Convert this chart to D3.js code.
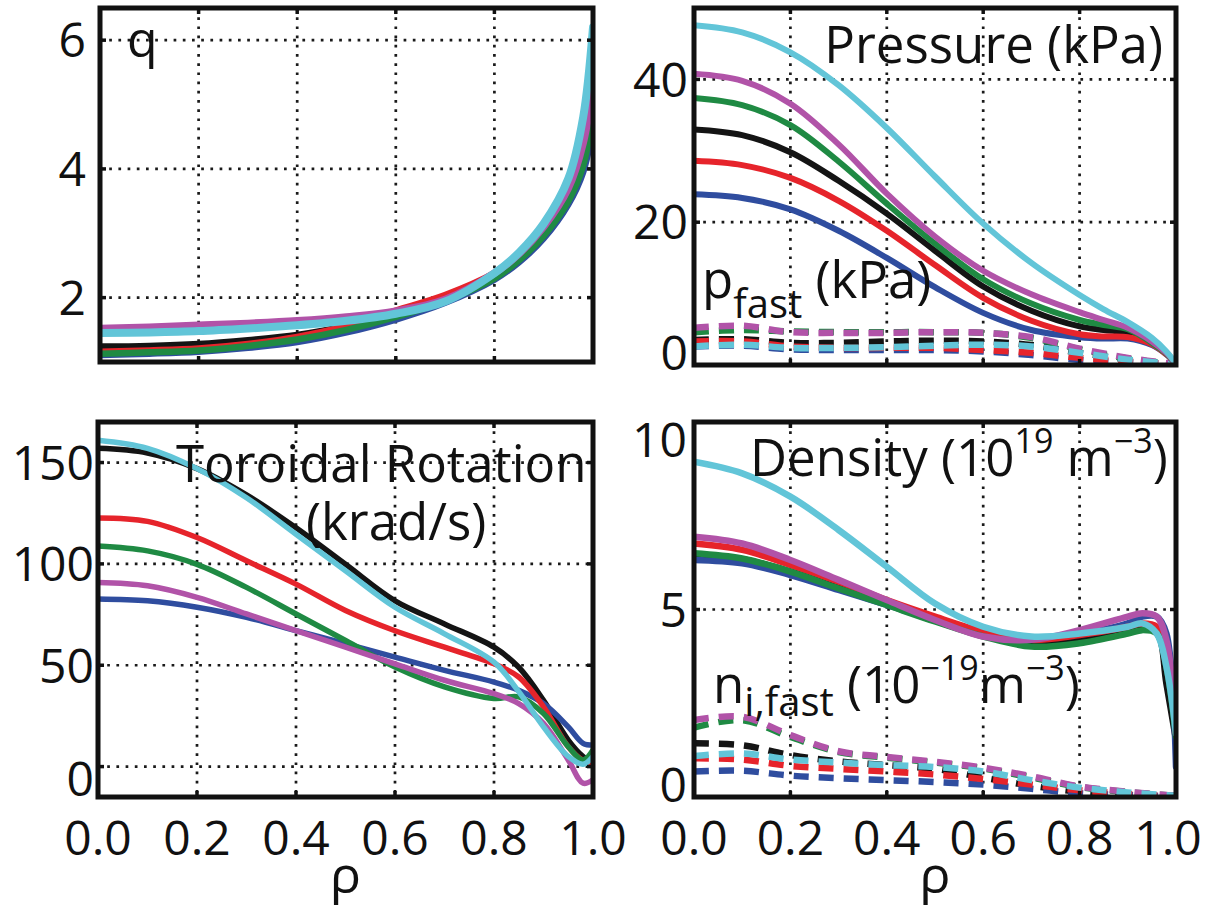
<!DOCTYPE html>
<html>
<head>
<meta charset="utf-8">
<script src="https://cdn.jsdelivr.net/npm/d3@7"></script>
<style>
  html, body { margin: 0; padding: 0; background: #fff; }
  svg { display: block; }
</style>
</head>
<body>
<svg id="chart" width="1205" height="908"></svg>
<script>
// ---------------- data ----------------
const colors = { blue: "#2f4d9f", red: "#e6242b", green: "#1f8a43", black: "#141414", magenta: "#b153a8", cyan: "#62c5d8" };
const drawOrder = ["black", "blue", "red", "green", "magenta", "cyan"];

const xTicks = [0, 0.2, 0.4, 0.6, 0.8, 1.0];
const xGrid = [0.2, 0.4, 0.6, 0.8];

// safety factor q
const rhoQ = [0, 0.1, 0.2, 0.3, 0.4, 0.5, 0.6, 0.7, 0.8, 0.85, 0.9, 0.95, 0.98, 1.0];
const qBlue    = [1.11, 1.13, 1.16, 1.22, 1.31, 1.46, 1.66, 1.92, 2.28, 2.55, 2.92, 3.45, 3.95, 4.66];
const qRed     = [1.16, 1.18, 1.21, 1.28, 1.39, 1.56, 1.80, 2.04, 2.38, 2.64, 3.00, 3.55, 4.10, 5.00];
const qGreen   = [1.13, 1.15, 1.18, 1.25, 1.35, 1.50, 1.70, 1.95, 2.30, 2.58, 2.96, 3.50, 4.05, 4.90];
const qBlack   = [1.24, 1.25, 1.28, 1.34, 1.42, 1.56, 1.78, 2.02, 2.36, 2.63, 3.00, 3.55, 4.10, 4.90];
const qMagenta = [1.52, 1.54, 1.57, 1.60, 1.64, 1.70, 1.79, 1.97, 2.38, 2.68, 3.10, 3.70, 4.40, 5.30];
const qCyan    = [1.45, 1.46, 1.48, 1.52, 1.57, 1.64, 1.75, 1.94, 2.38, 2.70, 3.15, 3.85, 4.80, 6.20];
const qTicks = [2, 4, 6];

// pressure (kPa)
const rhoP = [0, 0.1, 0.2, 0.3, 0.4, 0.5, 0.6, 0.7, 0.8, 0.85, 0.9, 0.95, 0.98, 1.0];
const pCyan    = [47.6, 46.6, 43.8, 39.2, 33.2, 26.4, 19.8, 14.3, 9.8, 7.8, 6.0, 3.8, 1.9, 0.2];
const pMagenta = [40.8, 39.8, 36.6, 30.9, 24.0, 18.0, 13.2, 9.9, 7.4, 6.3, 5.2, 3.3, 1.7, 0.2];
const pGreen   = [37.4, 36.4, 33.6, 28.5, 22.6, 17.0, 12.0, 8.6, 6.3, 5.6, 5.0, 3.1, 1.6, 0.2];
const pBlack   = [33.0, 32.2, 29.8, 25.8, 21.2, 16.0, 11.0, 7.6, 5.4, 4.9, 4.5, 3.0, 1.6, 0.2];
const pRed     = [28.6, 28.0, 26.2, 23.0, 18.8, 14.0, 9.4, 6.2, 4.3, 4.0, 3.9, 2.9, 1.5, 0.2];
const pBlue    = [23.9, 23.4, 21.8, 18.8, 15.0, 10.9, 7.3, 4.9, 3.9, 3.7, 3.7, 2.8, 1.5, 0.2];
// fast-ion pressure (kPa), dashed
const rhoPF = [0, 0.1, 0.2, 0.3, 0.4, 0.5, 0.6, 0.7, 0.8, 0.9, 1.0];
const pfMagenta = [5.2, 5.5, 4.6, 4.5, 4.5, 4.6, 4.5, 3.9, 2.3, 1.0, 0.1];
const pfGreen   = [4.6, 4.9, 4.7, 4.6, 4.6, 4.6, 4.5, 3.8, 2.2, 0.9, 0.1];
const pfBlack   = [3.5, 3.6, 3.1, 3.1, 3.3, 3.4, 3.3, 2.8, 1.7, 0.75, 0.1];
const pfRed     = [3.3, 3.3, 2.6, 2.4, 2.4, 2.4, 2.1, 1.7, 1.0, 0.5, 0.1];
const pfBlue    = [2.6, 2.7, 2.2, 2.1, 2.1, 2.1, 1.9, 1.4, 0.7, 0.4, 0.1];
const pfCyan    = [2.6, 2.85, 2.4, 2.4, 2.5, 2.7, 2.85, 2.6, 1.7, 0.75, 0.1];
const pTicks = [0, 20, 40];

// toroidal rotation (krad/s)
const rhoV = [0, 0.1, 0.2, 0.3, 0.4, 0.5, 0.6, 0.7, 0.8, 0.85, 0.9, 0.95, 0.98, 1.0];
const vCyan    = [161, 157, 147, 132.6, 114.6, 96.6, 78.6, 65.5, 51.5, 37, 19.6, 5, 1.2, 5];
const vBlack   = [157, 154.7, 147, 134, 117.8, 99.8, 81.8, 70.4, 58.9, 49, 32.7, 13.1, 4.9, 1.6];
const vRed     = [122.7, 121, 113, 101.5, 90, 77, 67, 58.9, 50.7, 44.2, 29.5, 9.8, 3, 1.6];
const vGreen   = [108.8, 106.4, 99.8, 88.4, 75.3, 62.2, 49.1, 39.3, 33.6, 34.4, 26.2, 9.8, 3.3, 8.2];
const vMagenta = [90.8, 89.2, 83.5, 75.3, 67.1, 58.9, 50.7, 42.6, 36, 31.1, 21.3, 3.3, -8.2, -6.5];
const vBlue    = [82.7, 81.8, 78.6, 73.6, 67.1, 60.6, 54, 47.5, 41.7, 37.6, 31.1, 19.6, 11.5, 10.6];
const vTicks = [0, 50, 100, 150];

// density (1e19 m^-3)
const rhoN = [0, 0.1, 0.2, 0.3, 0.4, 0.5, 0.6, 0.7, 0.8, 0.9, 0.93, 0.96, 0.98, 1.0];
const nCyan    = [8.94, 8.63, 8.01, 7.12, 6.14, 5.16, 4.54, 4.28, 4.36, 4.54, 4.63, 4.36, 3.48, 1.7];
const nMagenta = [6.94, 6.76, 6.32, 5.79, 5.25, 4.72, 4.28, 4.19, 4.45, 4.81, 4.90, 4.81, 4.19, 1.7];
const nRed     = [6.76, 6.59, 6.19, 5.74, 5.25, 4.81, 4.41, 4.19, 4.32, 4.54, 4.63, 4.54, 3.83, 1.7];
const nGreen   = [6.50, 6.36, 6.01, 5.56, 5.12, 4.68, 4.28, 4.01, 4.10, 4.36, 4.45, 4.36, 3.48, 1.61];
const nBlack   = [6.45, 6.34, 6.01, 5.58, 5.15, 4.70, 4.32, 4.14, 4.23, 4.45, 4.54, 4.45, 3.03, 1.52];
const nBlue    = [6.32, 6.23, 5.92, 5.52, 5.12, 4.72, 4.36, 4.23, 4.36, 4.63, 4.81, 4.81, 4.36, 0.81];
// fast-ion density, dashed
const rhoNF = [0, 0.1, 0.2, 0.3, 0.4, 0.5, 0.6, 0.7, 0.8, 0.9, 1.0];
const nfMagenta = [2.05, 2.14, 1.65, 1.22, 1.07, 0.94, 0.78, 0.55, 0.28, 0.14, 0.03];
const nfGreen   = [1.85, 2.05, 1.60, 1.20, 1.05, 0.92, 0.76, 0.52, 0.27, 0.13, 0.03];
const nfBlack   = [1.43, 1.38, 1.12, 0.95, 0.85, 0.75, 0.52, 0.30, 0.14, 0.06, 0.02];
const nfCyan    = [1.09, 1.16, 1.00, 0.92, 0.85, 0.80, 0.68, 0.45, 0.25, 0.12, 0.03];
const nfRed     = [1.03, 1.00, 0.83, 0.75, 0.68, 0.60, 0.48, 0.33, 0.18, 0.08, 0.02];
const nfBlue    = [0.68, 0.70, 0.57, 0.50, 0.45, 0.40, 0.33, 0.22, 0.10, 0.05, 0.01];
const nTicks = [0, 5, 10];

// ---------------- drawing ----------------
const FONT = "'Open Sans', 'Noto Sans', sans-serif";
const svg = d3.select("#chart");
svg.append("rect").attr("width", 1205).attr("height", 908).attr("fill", "#fff");

let clipId = 0;
function panel(cfg) {
  const g = svg.append("g");
  const x = d3.scaleLinear().domain([0, 1]).range([cfg.x0, cfg.x1]);
  const y = d3.scaleLinear().domain(cfg.ydom).range([cfg.y1, cfg.y0]);
  const id = "clip" + (clipId++);
  svg.append("clipPath").attr("id", id).append("rect")
    .attr("x", cfg.x0).attr("y", cfg.y0).attr("width", cfg.x1 - cfg.x0).attr("height", cfg.y1 - cfg.y0);

  // grid
  const grid = g.append("g").attr("stroke", "#1a1a1a").attr("stroke-width", 2.7).attr("stroke-dasharray", "2.7,6.5");
  grid.selectAll(".gx").data(xGrid).join("line")
    .attr("x1", d => x(d)).attr("x2", d => x(d)).attr("y1", cfg.y0).attr("y2", cfg.y1);
  grid.selectAll(".gy").data(cfg.grid).join("line")
    .attr("y1", d => y(d)).attr("y2", d => y(d)).attr("x1", cfg.x0).attr("x2", cfg.x1);

  const plot = g.append("g").attr("clip-path", `url(#${id})`);
  const line = (xs) => d3.line().x((d, i) => x(xs[i])).y(d => y(d)).curve(d3.curveCatmullRom.alpha(0.5));

  if (cfg.dashed) {
    drawOrder.forEach(k => {
      plot.append("path").attr("d", line(cfg.dashed.rho)(cfg.dashed[k]))
        .attr("fill", "none").attr("stroke", colors[k]).attr("stroke-width", 6.5)
        .attr("stroke-dasharray", "15,10");
    });
  }
  drawOrder.forEach(k => {
    plot.append("path").attr("d", line(cfg.solid.rho)(cfg.solid[k]))
      .attr("fill", "none").attr("stroke", colors[k])
      .attr("stroke-width", (cfg.widths && cfg.widths[k]) || cfg.lw)
      .attr("stroke-linejoin", "round").attr("stroke-linecap", "round");
  });

  // inward tick marks
  const tk = g.append("g").attr("stroke", "#111").attr("stroke-width", 3.5);
  const tl = 6;
  tk.selectAll(".tb").data(xGrid).join("line")
    .attr("x1", d => x(d)).attr("x2", d => x(d)).attr("y1", cfg.y1).attr("y2", cfg.y1 - tl);
  tk.selectAll(".tt").data(xGrid).join("line")
    .attr("x1", d => x(d)).attr("x2", d => x(d)).attr("y1", cfg.y0).attr("y2", cfg.y0 + tl);
  tk.selectAll(".tl").data(cfg.grid).join("line")
    .attr("y1", d => y(d)).attr("y2", d => y(d)).attr("x1", cfg.x0).attr("x2", cfg.x0 + tl);
  tk.selectAll(".tr").data(cfg.grid).join("line")
    .attr("y1", d => y(d)).attr("y2", d => y(d)).attr("x1", cfg.x1).attr("x2", cfg.x1 - tl);

  // frame
  g.append("rect").attr("x", cfg.x0).attr("y", cfg.y0)
    .attr("width", cfg.x1 - cfg.x0).attr("height", cfg.y1 - cfg.y0)
    .attr("fill", "none").attr("stroke", "#111").attr("stroke-width", 5);

  // y axis labels
  const ya = g.append("g").attr("transform", `translate(${cfg.x0 - cfg.lab},0)`)
    .call(d3.axisLeft(y).tickValues(cfg.yticks).tickSize(0).tickPadding(0).tickFormat(d3.format("d")));
  ya.select(".domain").remove();
  ya.attr("font-family", FONT).attr("font-size", 48);
  ya.selectAll(".tick").attr("transform", d => {
    const ty = Math.max(cfg.y0 + 18, Math.min(cfg.y1 - 12, y(d))) + ((cfg.labShift && cfg.labShift[d]) || 0);
    return `translate(0,${ty})`;
  });
  ya.selectAll("text").attr("fill", "#111").attr("dy", "0.36em");

  if (cfg.xlabels) {
    const xa = g.append("g").attr("transform", `translate(0,${cfg.y1})`)
      .call(d3.axisBottom(x).tickValues(xTicks).tickSize(0).tickFormat(d3.format(".1f")));
    xa.select(".domain").remove();
    xa.attr("font-family", FONT).attr("font-size", 48);
    xa.selectAll(".tick").attr("transform", d => `translate(${Math.min(1168, x(d))},0)`);
    xa.selectAll("text").attr("fill", "#111").attr("y", 58).attr("dy", 0);
    g.append("text").attr("x", (cfg.x0 + cfg.x1) / 2).attr("y", 893)
      .attr("text-anchor", "middle").attr("font-family", FONT).attr("font-size", 52)
      .attr("fill", "#111").text("ρ");
  }
  return g;
}

panel({ x0: 100, x1: 593, y0: 8, y1: 362, ydom: [1, 6.5], yticks: qTicks, grid: qTicks, lab: 14, lw: 6.5,
  widths: { cyan: 8, magenta: 7.5 },
  solid: { rho: rhoQ, blue: qBlue, red: qRed, green: qGreen, black: qBlack, magenta: qMagenta, cyan: qCyan } });

panel({ x0: 694, x1: 1176, y0: 8, y1: 365, ydom: [0, 50], yticks: pTicks, grid: [20, 40], lab: 6, lw: 6,
  solid: { rho: rhoP, blue: pBlue, red: pRed, green: pGreen, black: pBlack, magenta: pMagenta, cyan: pCyan },
  dashed: { rho: rhoPF, blue: pfBlue, red: pfRed, green: pfGreen, black: pfBlack, magenta: pfMagenta, cyan: pfCyan } });

panel({ x0: 98, x1: 593, y0: 422, y1: 797, ydom: [-15, 170], yticks: vTicks, grid: vTicks, lab: 4, lw: 5.5, xlabels: true,
  labShift: { 0: 12 },
  solid: { rho: rhoV, blue: vBlue, red: vRed, green: vGreen, black: vBlack, magenta: vMagenta, cyan: vCyan } });

panel({ x0: 694, x1: 1176, y0: 422, y1: 797, ydom: [0, 10], yticks: nTicks, grid: [5], lab: 7, lw: 6.5, xlabels: true,
  solid: { rho: rhoN, blue: nBlue, red: nRed, green: nGreen, black: nBlack, magenta: nMagenta, cyan: nCyan },
  dashed: { rho: rhoNF, blue: nfBlue, red: nfRed, green: nfGreen, black: nfBlack, magenta: nfMagenta, cyan: nfCyan } });

// ---------------- annotations ----------------
function label(xp, yp, parts, anchor) {
  const t = svg.append("text").attr("x", xp).attr("y", yp).attr("font-family", FONT)
    .attr("fill", "#111").attr("text-anchor", anchor || "start");
  parts.forEach(p => {
    t.append("tspan").attr("font-size", p.s || 51).attr("dy", p.dy || 0).text(p.t);
  });
  return t;
}
label(127, 57, [{ t: "q", s: 50 }]);
label(1163, 63, [{ t: "Pressure (kPa)" }], "end");
label(702, 298, [{ t: "p" }, { t: "fast", s: 40, dy: 20 }, { t: " (kPa)", dy: -20 }]);
label(176, 482, [{ t: "Toroidal Rotation" }]);
label(306, 540, [{ t: "(krad/s)" }]);
label(750, 476, [{ t: "Density (10" }, { t: "19", s: 34, dy: -23 }, { t: " m", dy: 23 }, { t: "−3", s: 34, dy: -23 }, { t: ")", dy: 23 }]);
label(713, 703, [{ t: "n" }, { t: "i,fast", s: 40, dy: 13 }, { t: " (10", dy: -13 }, { t: "−19", s: 34, dy: -23 }, { t: "m", dy: 23 }, { t: "−3", s: 34, dy: -23 }, { t: ")", dy: 23 }]);
</script>
</body>
</html>
